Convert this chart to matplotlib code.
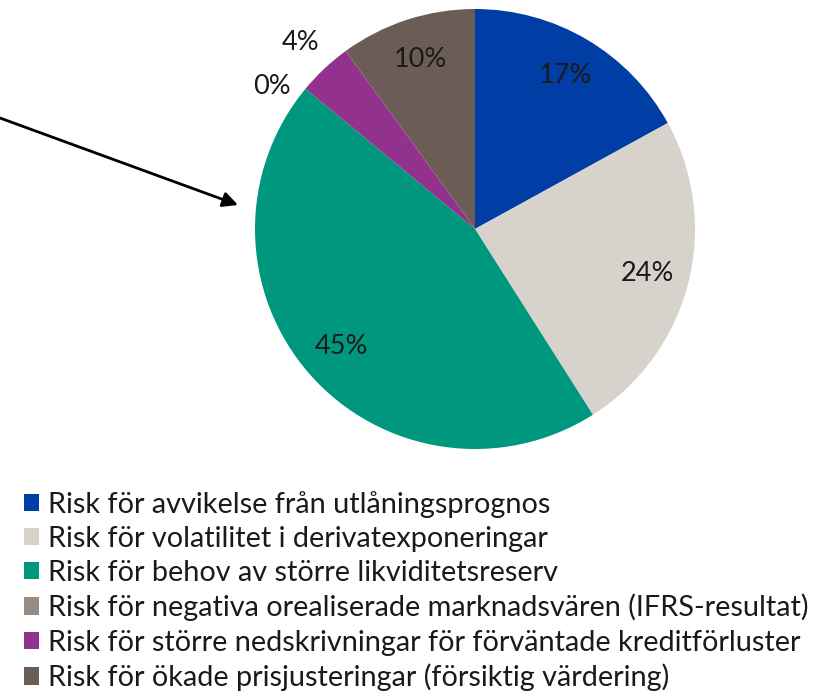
import matplotlib
matplotlib.use("Agg")
import matplotlib.pyplot as plt

categories = [
    "Risk för avvikelse från utlåningsprognos",
    "Risk för volatilitet i derivatexponeringar",
    "Risk för behov av större likviditetsreserv",
    "Risk för negativa orealiserade marknadsvären (IFRS-resultat)",
    "Risk för större nedskrivningar för förväntade kreditförluster",
    "Risk för ökade prisjusteringar (försiktig värdering)",
]
values = [17, 24, 45, 0, 4, 10]
colors = ["#003DA5", "#D7D2CB", "#00977F", "#968C83", "#93328E", "#6B5D55"]

plt.rcParams['font.family'] = ['Lato', 'DejaVu Sans']

W, H = 825, 692
fig = plt.figure(figsize=(W / 100, H / 100), dpi=100)
cx, cy, r = 475, 229, 220
ax = fig.add_axes([(cx - r) / W, (H - cy - r) / H, 2 * r / W, 2 * r / H])

wedges, texts, autotexts = ax.pie(
    values, colors=colors, startangle=90, counterclock=False,
    autopct=lambda p: f"{p:.0f}%", pctdistance=0.81,
    textprops=dict(fontsize=19.5, color="#1a1a1a"),
    wedgeprops=dict(linewidth=0))
# small slices: labels outside
for i, d in [(3, 1.14), (4, 1.16)]:
    x, y = autotexts[i].get_position()
    autotexts[i].set_position((x / 0.81 * d, y / 0.81 * d))
x, y = autotexts[3].get_position()
autotexts[3].set_position((x - 0.045, y - 0.08))
ax.set_xlim(-1, 1)
ax.set_ylim(-1, 1)
ax.set_aspect("equal")

ax.annotate("", xy=((238 - cx) / r, (cy - 205) / r),
            xytext=(-cx / r, (cy - 118) / r),
            arrowprops=dict(arrowstyle="-|>,head_length=0.9,head_width=0.45",
                            color="black", lw=2, shrinkA=0, shrinkB=0),
            annotation_clip=False)

fig.legend(wedges, categories, loc="upper left",
           bbox_to_anchor=(12 / W, 1 - 479 / H), frameon=False,
           fontsize=20.8, handlelength=0.55, handleheight=0.55,
           handletextpad=0.3, labelspacing=0.28, borderaxespad=0,
           labelcolor="#1a1a1a")

fig.savefig("out.png", dpi=100)
